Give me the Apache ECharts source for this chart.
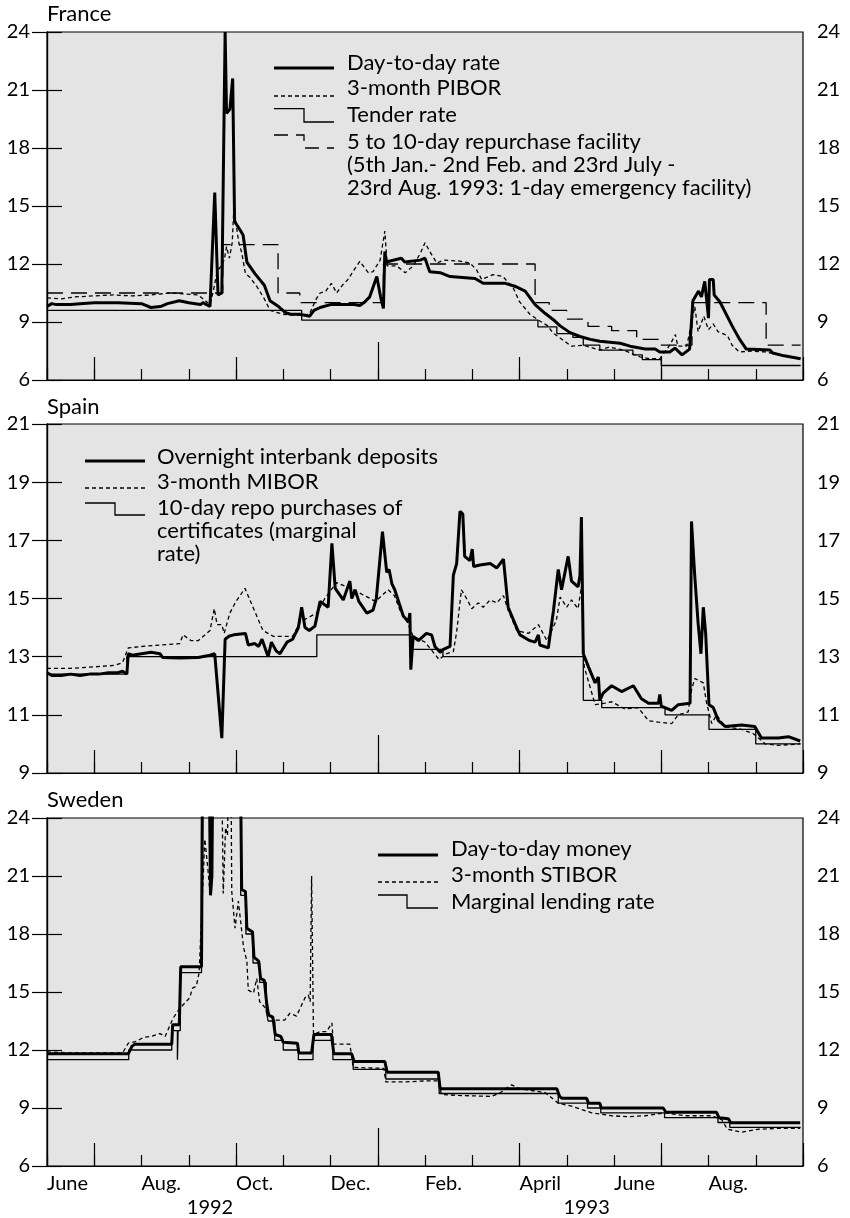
<!DOCTYPE html>
<html>
<head>
<meta charset="utf-8">
<script src="https://cdn.jsdelivr.net/npm/echarts@6/dist/echarts.min.js"></script>
<style>
  html, body { margin: 0; padding: 0; background: #fff; }
  #chart { width: 850px; height: 1218px; }
</style>
</head>
<body>
<div id="chart"></div>
<script>
// x values are months counted from 1 June 1992 (0) to 1 Oct 1993 (16)
const labelTicks = [0, 2, 4, 6, 8, 10, 12, 14];
const labelNames = ['June', 'Aug.', 'Oct.', 'Dec.', 'Feb.', 'April', 'June', 'Aug.'];
const quarterTicks = [1, 4, 10, 13, 16];
const yearTicks = [7];
const yearLabelPos = [3.45, 11.42];
const yearNames = ['1992', '1993'];

// France
const frDay = [[0,9.8],[0.1,9.95],[0.2,9.9],[0.5,9.9],[0.7,9.95],[1.0,10.0],[1.5,10.0],[2.0,9.95],[2.2,9.75],[2.4,9.8],[2.55,9.95],[2.8,10.1],[3.0,10.0],[3.25,9.9],[3.3,10.0],[3.45,9.8],[3.55,15.7],[3.62,10.4],[3.7,10.5],[3.77,24.0],[3.8,19.8],[3.87,20.0],[3.93,21.6],[3.97,14.2],[4.05,13.9],[4.15,13.5],[4.23,12.1],[4.4,11.5],[4.6,10.9],[4.72,10.1],[4.9,9.8],[5.04,9.5],[5.15,9.4],[5.35,9.4],[5.56,9.3],[5.65,9.6],[5.78,9.75],[6.0,9.9],[6.5,9.9],[6.62,9.85],[6.73,10.05],[6.83,10.3],[6.98,11.35],[7.06,10.3],[7.12,9.7],[7.15,12.65],[7.18,12.1],[7.5,12.3],[7.57,12.1],[7.9,12.2],[8.0,12.3],[8.1,11.6],[8.32,11.55],[8.53,11.35],[9.06,11.25],[9.23,11.0],[9.7,11.0],[9.9,10.85],[10.12,10.6],[10.33,9.9],[10.54,9.45],[10.75,9.05],[10.86,8.8],[11.07,8.45],[11.28,8.25],[11.5,8.1],[11.7,8.0],[12.13,7.9],[12.34,7.75],[12.66,7.6],[12.87,7.6],[12.97,7.45],[13.18,7.45],[13.29,7.65],[13.44,7.3],[13.6,7.6],[13.67,10.1],[13.79,10.6],[13.85,10.3],[13.92,11.1],[14.0,9.2],[14.02,11.2],[14.1,11.2],[14.12,10.4],[14.24,10.05],[14.5,8.8],[14.66,8.1],[14.8,7.6],[15.3,7.55],[15.36,7.4],[15.6,7.25],[15.95,7.1]];
const frPibor = [[0,10.25],[0.3,10.2],[0.6,10.3],[1.0,10.35],[1.4,10.4],[1.8,10.35],[2.2,10.4],[2.6,10.5],[2.9,10.45],[3.2,10.4],[3.35,10.1],[3.45,9.9],[3.52,10.6],[3.6,11.6],[3.68,11.9],[3.75,12.2],[3.8,12.9],[3.86,12.3],[3.92,13.1],[3.96,15.2],[4.0,14.1],[4.06,13.1],[4.12,12.6],[4.2,11.5],[4.3,11.3],[4.45,10.8],[4.6,10.2],[4.72,9.6],[4.85,9.5],[5.0,9.4],[5.3,9.35],[5.55,9.4],[5.7,10.2],[5.78,10.5],[5.9,10.6],[6.02,11.0],[6.13,10.5],[6.25,10.9],[6.37,11.2],[6.5,11.7],[6.62,12.13],[6.8,11.55],[6.9,11.6],[7.05,12.2],[7.15,13.7],[7.2,11.9],[7.4,11.9],[7.58,11.55],[7.75,11.9],[7.9,12.55],[8.0,13.1],[8.1,12.65],[8.25,12.05],[8.4,12.2],[8.74,12.15],[8.95,12.05],[9.09,11.7],[9.2,11.2],[9.44,11.45],[9.65,11.35],[9.87,10.75],[10.0,10.05],[10.22,9.4],[10.43,9.05],[10.6,8.8],[10.7,8.45],[11.1,7.75],[11.35,7.8],[11.7,7.55],[11.9,7.7],[12.2,7.55],[12.55,7.2],[12.76,7.1],[12.97,7.1],[13.18,7.8],[13.3,8.35],[13.35,7.75],[13.54,7.75],[13.71,9.8],[13.78,8.5],[13.9,9.3],[14.0,8.6],[14.1,8.9],[14.2,8.5],[14.4,8.3],[14.5,7.8],[14.65,7.45],[14.9,7.5],[15.2,7.45],[15.5,7.3],[15.95,7.1]];
const frTender = [[0,9.6],[5.39,9.1],[10.39,8.75],[10.79,8.4],[11.13,8.2],[11.35,7.8],[11.7,7.55],[12.4,7.3],[12.6,7.05],[13.0,6.75],[15.95,6.75]];
const frRepo = [[0,10.5],[3.72,13.0],[4.89,10.5],[5.35,10.0],[7.12,12.0],[10.33,10.0],[10.63,9.6],[11.0,9.15],[11.45,8.77],[11.95,8.55],[12.48,8.1],[12.95,7.8],[13.65,10.0],[15.22,7.8],[15.95,7.8]];

// Spain
const esDay = [[0,12.45],[0.1,12.35],[0.3,12.35],[0.5,12.4],[0.7,12.35],[0.9,12.4],[1.1,12.4],[1.3,12.45],[1.5,12.45],[1.6,12.5],[1.69,12.4],[1.72,13.1],[1.8,13.05],[2.0,13.1],[2.2,13.15],[2.39,13.1],[2.45,12.97],[2.8,12.95],[3.2,12.97],[3.45,13.05],[3.55,13.1],[3.7,10.2],[3.77,13.6],[3.85,13.7],[3.95,13.75],[4.2,13.8],[4.26,13.4],[4.4,13.45],[4.48,13.35],[4.55,13.6],[4.68,13.0],[4.75,13.5],[4.85,13.2],[4.93,13.1],[5.08,13.5],[5.2,13.6],[5.32,14.0],[5.39,14.7],[5.46,14.0],[5.55,13.9],[5.67,14.05],[5.78,14.9],[5.95,14.7],[6.03,16.9],[6.1,15.35],[6.27,14.95],[6.41,15.6],[6.45,15.0],[6.52,15.3],[6.6,14.9],[6.77,14.5],[6.9,14.6],[6.97,15.0],[7.1,17.3],[7.19,15.9],[7.24,16.0],[7.3,15.5],[7.36,15.3],[7.42,15.0],[7.54,14.4],[7.65,14.2],[7.68,14.5],[7.7,12.55],[7.75,13.7],[7.86,13.55],[8.03,13.8],[8.14,13.75],[8.21,13.35],[8.32,13.15],[8.39,13.25],[8.53,13.35],[8.6,15.8],[8.67,16.2],[8.74,18.0],[8.8,17.9],[8.84,16.45],[8.95,16.3],[9.0,16.7],[9.03,16.1],[9.16,16.15],[9.38,16.2],[9.52,16.05],[9.66,16.35],[9.76,14.7],[9.94,14.0],[10.01,13.75],[10.22,13.55],[10.33,13.5],[10.4,13.75],[10.43,13.4],[10.61,13.3],[10.72,14.6],[10.82,16.0],[10.89,15.3],[11.03,16.45],[11.1,15.6],[11.24,15.4],[11.28,15.8],[11.31,17.8],[11.35,13.1],[11.46,12.65],[11.6,12.1],[11.67,12.3],[11.7,11.5],[11.77,11.75],[11.95,12.0],[12.16,11.8],[12.41,12.0],[12.58,11.55],[12.73,11.4],[12.94,11.4],[12.97,11.7],[13.0,11.3],[13.22,11.15],[13.36,11.35],[13.61,11.4],[13.64,17.65],[13.71,15.75],[13.78,14.15],[13.84,13.1],[13.89,14.7],[13.94,13.8],[14.01,11.35],[14.1,11.25],[14.21,10.8],[14.35,10.6],[14.7,10.65],[14.98,10.6],[15.12,10.2],[15.48,10.2],[15.69,10.25],[15.94,10.1]];
const esMibor = [[0,12.6],[0.5,12.6],[1.0,12.65],[1.44,12.7],[1.6,12.8],[1.72,13.3],[2.0,13.35],[2.4,13.4],[2.81,13.45],[2.88,13.75],[3.05,13.55],[3.2,13.55],[3.45,13.9],[3.54,14.65],[3.6,14.1],[3.7,14.1],[3.75,13.8],[3.87,14.5],[4.0,14.9],[4.19,15.35],[4.36,14.7],[4.57,13.9],[4.79,13.7],[5.2,13.7],[5.36,14.2],[5.71,14.5],[5.88,15.0],[6.13,15.55],[6.48,15.3],[6.84,15.0],[6.95,14.9],[7.22,15.3],[7.35,15.1],[7.47,14.6],[7.62,14.2],[7.75,13.7],[8.0,13.5],[8.2,13.1],[8.3,12.9],[8.45,13.1],[8.6,13.17],[8.67,13.85],[8.77,15.3],[8.88,15.0],[8.99,14.65],[9.13,14.85],[9.23,14.7],[9.38,14.95],[9.52,14.85],[9.66,15.1],[9.76,14.6],[9.94,13.9],[10.19,13.8],[10.4,14.1],[10.58,13.55],[10.78,14.25],[10.86,15.05],[11.0,14.7],[11.1,14.95],[11.24,14.65],[11.31,15.4],[11.37,12.65],[11.53,11.75],[11.6,11.35],[11.81,11.4],[11.95,11.45],[12.23,11.2],[12.51,11.25],[12.73,10.8],[12.94,10.75],[13.22,10.7],[13.36,11.0],[13.57,11.1],[13.64,11.85],[13.71,12.25],[13.89,12.1],[13.96,11.4],[14.07,10.7],[14.17,11.0],[14.35,10.6],[14.7,10.5],[14.95,10.35],[15.2,10.0],[15.48,9.95],[15.94,10.0]];
const esRepo = [[0,12.4],[1.69,13.0],[5.71,13.75],[7.68,13.25],[8.38,13.0],[11.35,11.5],[11.74,11.25],[13.08,11.0],[14.01,10.5],[15.0,10.0],[15.95,10.0]];

// Sweden (values above 24 run off the top of the panel)
const seDay = [[0,11.8],[1.72,11.8],[1.8,12.2],[1.86,12.3],[2.64,12.3],[2.66,13.3],[2.8,13.3],[2.83,16.3],[3.27,16.3],[3.3,30],[3.42,30],[3.46,20.0],[3.49,21.0],[3.52,30],[4.08,30],[4.12,20.3],[4.2,20.2],[4.23,18.3],[4.35,18.1],[4.38,16.8],[4.48,16.6],[4.52,15.7],[4.6,15.6],[4.65,14.4],[4.69,13.8],[4.78,13.7],[4.83,12.8],[4.95,12.7],[5.0,12.4],[5.3,12.35],[5.33,11.85],[5.6,11.85],[5.65,12.8],[6.02,12.8],[6.07,11.8],[6.45,11.8],[6.5,11.4],[7.15,11.4],[7.2,10.85],[8.28,10.85],[8.32,10.0],[10.79,10.0],[10.85,9.6],[10.9,9.5],[11.42,9.5],[11.46,9.25],[11.7,9.25],[11.73,9.0],[13.04,9.0],[13.1,8.78],[14.17,8.78],[14.22,8.5],[14.42,8.45],[14.47,8.24],[15.94,8.24]];
const seStibor = [[0,11.9],[0.5,11.85],[1.0,11.85],[1.6,11.85],[1.72,12.35],[1.9,12.45],[2.04,12.65],[2.2,12.7],[2.39,12.85],[2.5,12.7],[2.67,13.65],[2.81,14.15],[3.02,14.7],[3.08,15.2],[3.16,15.3],[3.22,16.0],[3.34,22.9],[3.4,21.5],[3.45,20.1],[3.5,30],[3.68,30],[3.73,20.1],[3.78,23.5],[3.82,23.1],[3.87,30],[3.9,24],[3.91,20.2],[3.98,18.3],[4.05,19.7],[4.16,17.3],[4.23,16.6],[4.26,15.1],[4.37,14.95],[4.44,15.7],[4.5,14.5],[4.65,14.1],[4.79,13.55],[5.03,13.55],[5.14,13.9],[5.28,13.75],[5.46,14.7],[5.53,14.85],[5.57,14.5],[5.6,21.0],[5.64,12.8],[5.78,12.95],[5.92,12.95],[6.03,13.4],[6.06,12.3],[6.41,12.3],[6.48,11.1],[7.13,11.05],[7.17,10.35],[7.6,10.35],[8.0,10.4],[8.28,10.4],[8.35,9.7],[8.7,9.65],[9.41,9.6],[9.6,9.8],[9.83,10.2],[10.0,10.0],[10.12,9.95],[10.54,9.8],[10.82,9.25],[11.1,9.1],[11.53,8.75],[11.95,8.6],[12.3,8.55],[12.66,8.6],[13.08,8.75],[13.5,8.6],[14.07,8.6],[14.28,8.4],[14.4,7.9],[14.7,7.75],[15.05,7.9],[15.5,7.95],[15.94,7.95]];
const seMarg = [[0,11.5],[1.73,12.0],[2.64,13.0],[2.76,11.5],[2.775,13.0],[2.82,16.0],[3.27,30],[4.1,20.0],[4.21,18.0],[4.36,16.5],[4.5,15.5],[4.64,14.0],[4.68,13.5],[4.82,12.5],[5.0,12.0],[5.32,11.5],[5.63,12.5],[6.05,11.5],[6.48,11.0],[7.17,10.5],[8.3,9.75],[10.82,9.25],[11.44,9.0],[11.72,8.75],[13.07,8.5],[14.2,8.25],[14.45,8.0],[15.95,8.0]];

const FONT = 'Lato';
const FS = 20;      // axis labels
const FS_TEXT = 22; // titles and legend
const INK = '#000';

const chart = echarts.init(document.getElementById('chart'));

const panels = [
  { name: 'France', top: 32, height: 348, min: 6, max: 24, step: 3 },
  { name: 'Spain', top: 424, height: 349, min: 9, max: 21, step: 2 },
  { name: 'Sweden', top: 818, height: 348, min: 6, max: 24, step: 3 }
];

const grid = [], xAxis = [], yAxis = [];
const axisLine = { show: true, lineStyle: { color: INK, width: 1.2 } };
const label = { color: INK, fontFamily: FONT, fontSize: FS };

panels.forEach((p, i) => {
  grid.push({
    left: 47, right: 47, top: p.top, height: p.height,
    show: true, backgroundColor: '#e4e4e4', borderColor: INK, borderWidth: 1.2
  });
  const last = i === panels.length - 1;
  // monthly ticks (and month labels on the last panel)
  xAxis.push({
    gridIndex: i, type: 'value', min: 0, max: 16, interval: 1, position: 'bottom',
    axisLine,
    axisTick: { show: true, inside: true, length: 11, lineStyle: { color: INK, width: 1.2 } },
    axisLabel: last ? {
      show: true, ...label, align: 'left', margin: 8,
      customValues: labelTicks,
      formatter: v => labelNames[labelTicks.indexOf(v)]
    } : { show: false },
    splitLine: { show: false }
  });
  // quarter ticks
  xAxis.push({
    gridIndex: i, type: 'value', min: 0, max: 16, position: 'bottom',
    axisLine: { show: false },
    axisTick: { show: true, inside: true, length: 23, customValues: quarterTicks, lineStyle: { color: INK, width: 1.2 } },
    axisLabel: { show: false }, splitLine: { show: false }
  });
  // year tick
  xAxis.push({
    gridIndex: i, type: 'value', min: 0, max: 16, position: 'bottom',
    axisLine: { show: false },
    axisTick: { show: true, inside: true, length: 38, customValues: yearTicks, lineStyle: { color: INK, width: 1.2 } },
    axisLabel: { show: false }, splitLine: { show: false }
  });
  ['left', 'right'].forEach(pos => {
    yAxis.push({
      gridIndex: i, type: 'value', position: pos,
      min: p.min, max: p.max, interval: p.step,
      axisLine,
      axisTick: { show: true, inside: true, length: 15, lineStyle: { color: INK, width: 1.2 } },
      axisLabel: { ...label, margin: pos === 'left' ? 17 : 14 },
      splitLine: { show: false }
    });
  });
});

// year labels under the month labels
xAxis.push({
  gridIndex: 2, type: 'value', min: 0, max: 16, position: 'bottom',
  axisLine: { show: false }, axisTick: { show: false },
  axisLabel: {
    show: true, ...label, align: 'center', margin: 32,
    customValues: yearLabelPos,
    formatter: v => yearNames[yearLabelPos.indexOf(v)]
  },
  splitLine: { show: false }
});

function line(panel, data, kind) {
  const s = {
    type: 'line', data, xAxisIndex: panel * 3, yAxisIndex: panel * 2,
    showSymbol: false, symbol: 'none', animation: false, clip: true,
    lineStyle: { color: INK, width: 1.3 }
  };
  if (kind === 'thick') s.lineStyle.width = 3;
  if (kind === 'dash') s.lineStyle.type = [4, 3];
  if (kind === 'step') s.step = 'end';
  if (kind === 'longstep') { s.step = 'end'; s.lineStyle.type = [16, 8]; }
  return s;
}

const series = [
  line(0, frTender, 'step'),
  line(0, frRepo, 'longstep'),
  line(0, frPibor, 'dash'),
  line(0, frDay, 'thick'),
  line(1, esRepo, 'step'),
  line(1, esMibor, 'dash'),
  line(1, esDay, 'thick'),
  line(2, seMarg, 'step'),
  line(2, seStibor, 'dash'),
  line(2, seDay, 'thick')
];

// titles and legend keys
const font = FS_TEXT + 'px ' + FONT;
function txt(x, y, text) {
  return { type: 'text', x, y, style: { text, font, fill: INK, align: 'left', verticalAlign: 'middle', lineHeight: 23 } };
}
function key(points, width, dash) {
  return { type: 'polyline', shape: { points }, style: { stroke: INK, lineWidth: width, fill: null, lineDash: dash || null } };
}

const graphic = [
  txt(47, 14, 'France'),
  txt(47, 407, 'Spain'),
  txt(47, 800, 'Sweden'),

  key([[274, 68], [334, 68]], 3),
  txt(347, 63, 'Day-to-day rate'),
  key([[274, 96], [334, 96]], 1.3, [4, 3]),
  txt(347, 88, '3-month PIBOR'),
  key([[274, 108.7], [304, 108.7], [304, 122], [334, 122]], 1.3),
  txt(347, 115, 'Tender rate'),
  key([[274, 135], [304, 135], [304, 148], [334, 148]], 1.3, [14, 8]),
  txt(347, 164.5, '5 to 10-day repurchase facility\n(5th Jan.- 2nd Feb. and 23rd July -\n23rd Aug. 1993: 1-day emergency facility)'),

  key([[85, 461], [145, 461]], 3),
  txt(157, 457, 'Overnight interbank deposits'),
  key([[85, 488], [145, 488]], 1.3, [4, 3]),
  txt(157, 482, '3-month MIBOR'),
  key([[85, 503], [115, 503], [115, 515], [145, 515]], 1.3),
  txt(157, 531, '10-day repo purchases of\ncertificates (marginal\nrate)'),

  key([[378, 855], [438, 855]], 3),
  txt(451, 849, 'Day-to-day money'),
  key([[378, 882], [438, 882]], 1.3, [4, 3]),
  txt(451, 875, '3-month STIBOR'),
  key([[378, 895], [407, 895], [407, 908], [438, 908]], 1.3),
  txt(451, 902, 'Marginal lending rate')
];

chart.setOption({
  animation: false,
  backgroundColor: '#fff',
  grid, xAxis, yAxis, series, graphic
});
</script>
</body>
</html>
